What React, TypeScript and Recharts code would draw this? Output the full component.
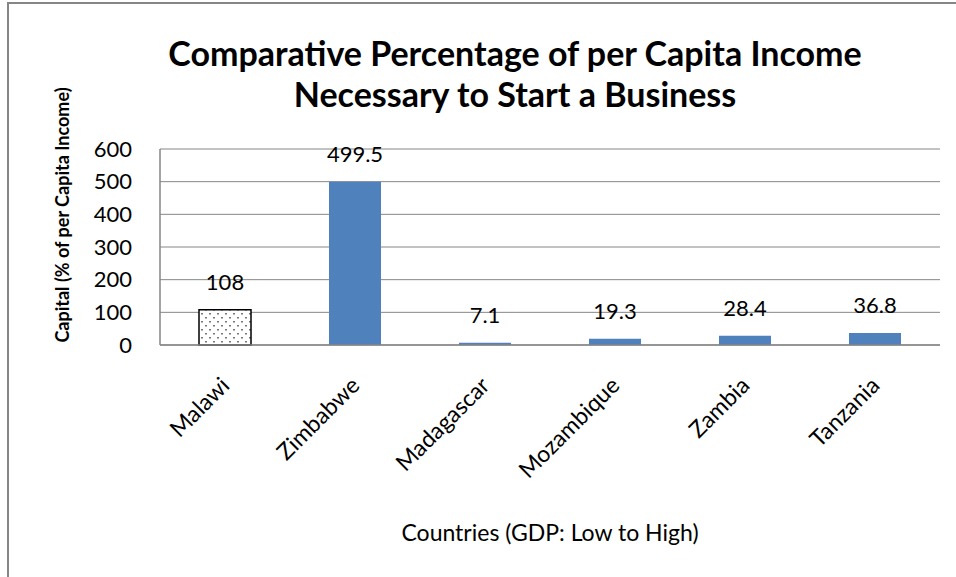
import { BarChart, Bar, XAxis, YAxis, CartesianGrid, Cell, LabelList, Label } from "recharts";

const countries = ["Malawi", "Zimbabwe", "Madagascar", "Mozambique", "Zambia", "Tanzania"];
const capitalPct = [108, 499.5, 7.1, 19.3, 28.4, 36.8];
const yTicks = [0, 100, 200, 300, 400, 500, 600];

const data = countries.map((name, i) => ({ name, value: capitalPct[i] }));

const FONT = "Lato, 'Open Sans', sans-serif";

const CountryTick = (props: any) => {
  const { x, y, payload } = props;
  return (
    <g transform={`translate(${x + 6},${y + 34})`}>
      <text
        textAnchor="end"
        transform="rotate(-45)"
        fontSize={23}
        fontFamily={FONT}
        fill="#000"
      >
        {payload.value}
      </text>
    </g>
  );
};

export default function App() {
  return (
    <div style={{ position: "relative", width: 956, height: 577, background: "#fff", fontFamily: FONT }}>
      <style>{`body{margin:0}`}</style>
      <div style={{ position: "absolute", left: 8, top: 2, right: 0, height: 2, background: "#868686" }} />
      <div style={{ position: "absolute", left: 7, top: 2, width: 2, bottom: 0, background: "#868686" }} />
      <div
        style={{
          position: "absolute",
          left: 115,
          width: 800,
          top: 32,
          textAlign: "center",
          fontSize: 34,
          fontWeight: 700,
          lineHeight: "41px",
          color: "#000",
        }}
      >
        Comparative Percentage of per Capita Income
        <br />
        Necessary to Start a Business
      </div>
      <BarChart
        width={956}
        height={577}
        data={data}
        margin={{ top: 149, right: 16, bottom: 32, left: 60 }}
        barCategoryGap="30%"
      >
        <defs>
          <pattern id="dots" width="8" height="8" patternUnits="userSpaceOnUse">
            <rect width="8" height="8" fill="#fff" />
            <rect x="1" y="1" width="2" height="1.5" fill="#777" />
            <rect x="5" y="5" width="2" height="1.5" fill="#777" />
          </pattern>
        </defs>
        <CartesianGrid vertical={false} stroke="#868686" strokeWidth={1} />
        <XAxis
          dataKey="name"
          interval={0}
          tick={<CountryTick />}
          tickLine={false}
          axisLine={{ stroke: "#868686", strokeWidth: 1.5 }}
          height={200}
        >
          <Label
            value="Countries (GDP: Low to High)"
            position="insideBottom"
            offset={4}
            style={{ fontSize: 23, fontFamily: FONT, fill: "#000" }}
          />
        </XAxis>
        <YAxis
          domain={[0, 600]}
          ticks={yTicks}
          interval={0}
          width={100}
          tickLine={false}
          axisLine={{ stroke: "#868686", strokeWidth: 1.5 }}
          tick={{ fontSize: 22, fontFamily: FONT, fill: "#000", dx: -20 }}
        >
          <Label
            value="Capital (% of per Capita Income)"
            angle={-90}
            position="insideLeft"
            offset={0}
            dy={-32}
            dx={3}
            style={{ fontSize: 18, fontWeight: 700, fontFamily: FONT, fill: "#000", textAnchor: "middle" }}
          />
        </YAxis>
        <Bar dataKey="value" isAnimationActive={false} maxBarSize={53}>
          {data.map((d, i) => (
            <Cell
              key={d.name}
              fill={i === 0 ? "url(#dots)" : "#4F81BD"}
              stroke={i === 0 ? "#000" : "none"}
              strokeWidth={i === 0 ? 1.5 : 0}
            />
          ))}
          <LabelList
            dataKey="value"
            position="top"
            offset={20}
            style={{ fontSize: 22, fontFamily: FONT, fill: "#000" }}
          />
        </Bar>
      </BarChart>
    </div>
  );
}
